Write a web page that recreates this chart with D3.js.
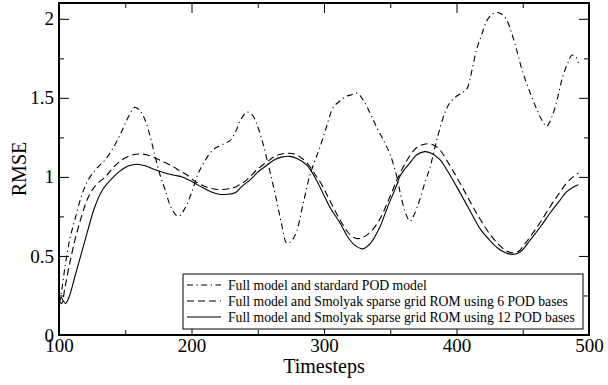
<!DOCTYPE html>
<html>
<head>
<meta charset="utf-8">
<script src="https://cdn.jsdelivr.net/npm/d3@7"></script>
<style>
  body { margin: 0; background: #fff; }
  svg { font-family: "Liberation Serif", "Times New Roman", serif; }
</style>
</head>
<body>
<script>
// series: standard POD (dash-dot)
var podT = [100,102,104.5,108,112,117,122,128,135,142,148,153,157,161,165,169,172.5,176,180,185,190,195,200,205,210,216,222,229,233,237,242,246,249,253,257,261,264.5,268,272,276,279.5,284,289,293,297,302,307,312,317,321,325,330,335,340,345,350,355,358,362,365,368,372,376,380,385,391,395,400,404,408,411,415,419,423,427,430,434,438,442,445.5,449,453,457,461,465,468,472,476,480,484,487,490,492];
var podV = [0.2,0.28,0.43,0.6,0.73,0.88,0.98,1.05,1.11,1.2,1.3,1.39,1.44,1.42,1.36,1.25,1.13,1.02,0.92,0.8,0.75,0.8,0.9,1.02,1.1,1.17,1.2,1.23,1.28,1.36,1.41,1.39,1.34,1.24,1.11,0.97,0.84,0.7,0.58,0.6,0.66,0.82,1.0,1.1,1.19,1.32,1.44,1.48,1.51,1.52,1.53,1.48,1.4,1.31,1.23,1.14,1.0,0.88,0.76,0.72,0.76,0.85,0.96,1.06,1.23,1.4,1.47,1.51,1.53,1.56,1.65,1.8,1.9,1.99,2.03,2.04,2.03,1.99,1.9,1.8,1.69,1.59,1.5,1.42,1.35,1.32,1.38,1.49,1.63,1.72,1.77,1.76,1.72];

// series: Smolyak ROM, 6 POD bases (dashed)
var rom6T = [100,102,104.5,108,112,117,122,128,135,141,148,154,160,166,172.5,179,185,191,197,203,210,216,222,228,234,240,244,250,257,263,268,273,278,283,287,293,299,305,312,318,323,327,332,337,342,348,355,359,363,368,373,378,383,387.5,393,400,406,412.5,418,425,431,437,442,447,451,455.5,463,470.5,477,483,488,492];
var rom6V = [0.22,0.2,0.3,0.45,0.6,0.75,0.87,0.95,1.0,1.06,1.11,1.135,1.145,1.14,1.12,1.095,1.07,1.04,1.01,0.97,0.94,0.925,0.92,0.925,0.94,0.97,1.0,1.05,1.095,1.13,1.145,1.15,1.145,1.12,1.09,1.02,0.94,0.84,0.73,0.65,0.615,0.61,0.63,0.67,0.73,0.84,0.98,1.05,1.11,1.17,1.2,1.21,1.2,1.17,1.1,1.0,0.91,0.81,0.73,0.64,0.58,0.535,0.52,0.53,0.57,0.62,0.71,0.81,0.89,0.96,1.0,1.025];

// series: Smolyak ROM, 12 POD bases (solid)
var rom12T = [100,101.5,103,105,108,112,117,122,127,133,140,145,150,155,159,165,172.5,180,187,193,198,202.5,209,215,221,227,233,238,244,250,257,263,268,274,280,287,293,299,305,312,318,323,329,335,342,348,355,357,361,365,370,376,381,387.5,393,400,406,412.5,418,425,431,437,442,447,451,455.5,463,470.5,477,483,488,492];
var rom12V = [0.1,0.24,0.22,0.2,0.25,0.37,0.52,0.67,0.81,0.92,0.99,1.03,1.06,1.075,1.08,1.07,1.045,1.025,1.01,1.0,0.98,0.96,0.93,0.905,0.89,0.89,0.9,0.94,0.98,1.03,1.075,1.11,1.125,1.13,1.115,1.075,1.0,0.9,0.8,0.71,0.62,0.57,0.545,0.58,0.68,0.81,0.95,1.0,1.05,1.09,1.14,1.16,1.15,1.11,1.04,0.94,0.85,0.75,0.67,0.6,0.55,0.52,0.51,0.52,0.55,0.6,0.68,0.77,0.84,0.905,0.935,0.95];

var legendLabels = [
  'Full model and stardard POD model',
  'Full model and Smolyak sparse grid ROM using 6 POD bases',
  'Full model and Smolyak sparse grid ROM using 12 POD bases'
];
var dashes = ['6,3.5,1.2,3.5', '7,4', null];

var xTicks = [100, 200, 300, 400, 500],
    xMinor = [150, 250, 350, 450],
    yTicks = [0, 0.5, 1, 1.5, 2],
    yMinor = [0.25, 0.75, 1.25, 1.75];

//setup graph size
var W = 608, H = 385;
var margin = {top: 3, bottom: 50, right: 19, left: 59};
var width = W - margin.left - margin.right,
    height = H - margin.top - margin.bottom;

var xScale = d3.scaleLinear().domain([100, 500]).range([0, width]),
    yScale = d3.scaleLinear().domain([0, 2.1]).range([height, 0]);

var svg = d3.select('body').append('svg')
    .attr('width', W)
    .attr('height', H);

var g = svg.append('g')
    .attr('transform', 'translate(' + margin.left + ',' + margin.top + ')');

//inward ticks on all four sides
function tickAxis(axisFn, scale, vals, len, fmt) {
  return axisFn(scale).tickValues(vals).tickSizeInner(-len).tickSizeOuter(0).tickFormat(fmt);
}
var none = function() { return ''; };

g.append('g').attr('transform', 'translate(0,' + height + ')')
  .call(tickAxis(d3.axisBottom, xScale, xTicks, 10, d3.format('d')))
  .call(function(s) { s.selectAll('text').attr('dy', '0.71em').attr('y', 4); });
g.append('g').attr('transform', 'translate(0,' + height + ')')
  .call(tickAxis(d3.axisBottom, xScale, xMinor, 5, none));
g.append('g').call(tickAxis(d3.axisTop, xScale, xTicks, 10, none));
g.append('g').call(tickAxis(d3.axisTop, xScale, xMinor, 5, none));

g.append('g')
  .call(tickAxis(d3.axisLeft, yScale, yTicks, 10, d3.format('')))
  .call(function(s) { s.selectAll('text').attr('x', -5); });
g.append('g').call(tickAxis(d3.axisLeft, yScale, yMinor, 5, none));
g.append('g').attr('transform', 'translate(' + width + ',0)')
  .call(tickAxis(d3.axisRight, yScale, yTicks, 10, none));
g.append('g').attr('transform', 'translate(' + width + ',0)')
  .call(tickAxis(d3.axisRight, yScale, yMinor, 5, none));

g.selectAll('.domain').remove();
g.selectAll('.tick line').attr('stroke', '#000').attr('stroke-width', 1);
g.selectAll('.tick text')
  .attr('fill', '#000')
  .style('font-size', '19px')
  .style('font-family', '"Liberation Serif", "Times New Roman", serif');

//lines
var line = d3.line()
    .x(function(d) { return xScale(d[0]); })
    .y(function(d) { return yScale(d[1]); })
    .curve(d3.curveCatmullRom.alpha(0.5));

var series = [
  d3.zip(podT, podV),
  d3.zip(rom6T, rom6V),
  d3.zip(rom12T, rom12V)
];

series.forEach(function(s, i) {
  g.append('path')
    .datum(s)
    .attr('fill', 'none')
    .attr('stroke', '#000')
    .attr('stroke-width', 1.1)
    .attr('stroke-dasharray', dashes[i])
    .attr('d', line);
});

//frame
g.append('rect')
  .attr('width', width)
  .attr('height', height)
  .attr('fill', 'none')
  .attr('stroke', '#000')
  .attr('stroke-width', 2);

//legend
var lg = g.append('g').attr('transform', 'translate(' + (183 - margin.left) + ',' + (274 - margin.top) + ')');
lg.append('rect')
  .attr('width', 400)
  .attr('height', 55)
  .attr('fill', '#fff')
  .attr('stroke', '#000')
  .attr('stroke-width', 1);

legendLabels.forEach(function(lab, i) {
  var yy = 11 + i * 16;
  lg.append('line')
    .attr('x1', 4).attr('x2', 38)
    .attr('y1', yy).attr('y2', yy)
    .attr('stroke', '#000')
    .attr('stroke-width', 1.1)
    .attr('stroke-dasharray', dashes[i]);
  lg.append('text')
    .attr('x', 45)
    .attr('y', yy)
    .attr('dy', '0.35em')
    .style('font-size', '13.7px')
    .text(lab);
});

//axis titles
svg.append('text')
  .attr('x', margin.left + width / 2)
  .attr('y', 373)
  .attr('text-anchor', 'middle')
  .style('font-size', '20px')
  .text('Timesteps');

svg.append('text')
  .attr('transform', 'translate(26,' + (margin.top + yScale(1.05)) + ') rotate(-90)')
  .attr('text-anchor', 'middle')
  .style('font-size', '20px')
  .text('RMSE');
</script>
</body>
</html>
